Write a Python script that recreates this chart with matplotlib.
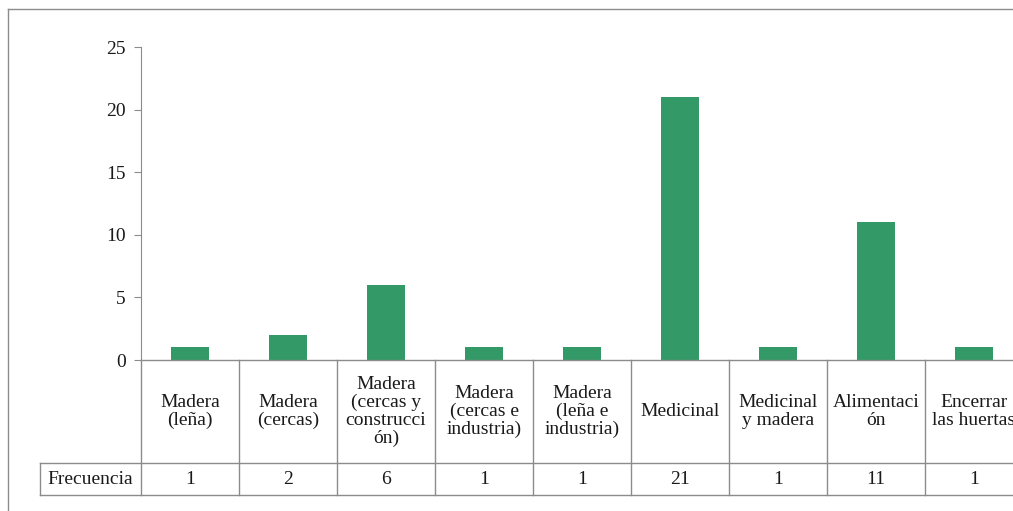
import matplotlib
matplotlib.use('Agg')
import matplotlib.pyplot as plt
import matplotlib.transforms as mtransforms
from matplotlib.lines import Line2D
import numpy as np

plt.rcParams['font.family'] = ['Liberation Serif', 'DejaVu Serif']

# datos
categorias = ['Madera\n(leña)', 'Madera\n(cercas)', 'Madera\n(cercas y\nconstrucci\nón)',
              'Madera\n(cercas e\nindustria)', 'Madera\n(leña e\nindustria)', 'Medicinal',
              'Medicinal\ny madera', 'Alimentaci\nón', 'Encerrar\nlas huertas']
frecuencia = [1, 2, 6, 1, 1, 21, 1, 11, 1]
serie_nombre = 'Frecuencia'
yticks = [0, 5, 10, 15, 20, 25]

W, H = 1013, 511
fig = plt.figure(figsize=(W / 100, H / 100), dpi=100)

# borde exterior del gráfico (recortado a la derecha)
gris = '#8c8c8c'
fig.add_artist(Line2D([8 / W, 1.0], [1 - 9 / H, 1 - 9 / H], transform=fig.transFigure, color=gris, lw=1))
fig.add_artist(Line2D([8 / W, 8 / W], [0, 1 - 9 / H], transform=fig.transFigure, color=gris, lw=1))

x0, x1 = 141, 1023
y0, y1 = 360, 47
ax = fig.add_axes([x0 / W, (H - y0) / H, (x1 - x0) / W, (y0 - y1) / H])

x = np.arange(len(categorias))
ax.bar(x, frecuencia, width=0.39, color='#339966', zorder=2)
ax.set_xlim(-0.5, len(categorias) - 0.5)
ax.set_ylim(0, 25)
ax.set_yticks(yticks)
ax.set_xticks([])
for s in ['top', 'right', 'bottom']:
    ax.spines[s].set_visible(False)
ax.spines['left'].set_color(gris)
ax.tick_params(axis='y', colors=gris, labelcolor='#1a1a1a', labelsize=14, length=5, pad=6)

# tabla de datos
trans = mtransforms.blended_transform_factory(ax.transData, ax.transAxes)
px = 1.0 / (y0 - y1)
y_cat = -(463 - y0) * px
y_val = -(495 - y0) * px
xl = -0.5 - (141 - 40) / ((x1 - x0) / len(categorias))
lk = dict(color=gris, lw=1, clip_on=False, transform=trans)
ax.add_line(Line2D([-0.5, len(categorias) - 0.5], [0, 0], **lk))
ax.add_line(Line2D([xl, len(categorias) - 0.5], [y_cat, y_cat], **lk))
ax.add_line(Line2D([xl, len(categorias) - 0.5], [y_val, y_val], **lk))
ax.add_line(Line2D([xl, xl], [y_cat, y_val], **lk))
for i in range(len(categorias) + 1):
    ax.add_line(Line2D([i - 0.5, i - 0.5], [0, y_val], **lk))

for i, (c, v) in enumerate(zip(categorias, frecuencia)):
    ax.text(i, y_cat / 2, c, transform=trans, ha='center', va='center',
            fontsize=14, linespacing=1.05, color='#1a1a1a', clip_on=False)
    ax.text(i, (y_cat + y_val) / 2, str(v), transform=trans, ha='center', va='center',
            fontsize=14, color='#1a1a1a', clip_on=False)
ax.text((xl - 0.5) / 2, (y_cat + y_val) / 2, serie_nombre, transform=trans,
        ha='center', va='center', fontsize=14, color='#1a1a1a', clip_on=False)

fig.savefig('out.png', dpi=100)
